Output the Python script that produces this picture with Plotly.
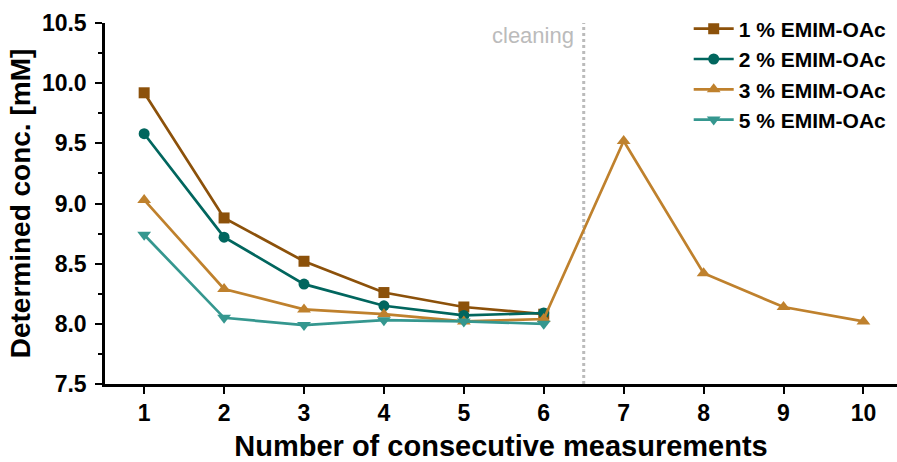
import plotly.graph_objects as go

x_all = [1, 2, 3, 4, 5, 6, 7, 8, 9, 10]
x_first = [1, 2, 3, 4, 5, 6]

names = ["1 % EMIM-OAc", "2 % EMIM-OAc", "3 % EMIM-OAc", "5 % EMIM-OAc"]
conc_1 = [9.92, 8.88, 8.52, 8.26, 8.14, 8.08]
conc_2 = [9.58, 8.72, 8.33, 8.15, 8.07, 8.09]
conc_3 = [9.03, 8.29, 8.12, 8.08, 8.02, 8.04, 9.52, 8.42, 8.14, 8.02]
conc_5 = [8.74, 8.05, 7.99, 8.03, 8.02, 8.00]

colors = ["#8c510a", "#01665e", "#bf812d", "#35978f"]
symbols = ["square", "circle", "triangle-up", "triangle-down"]
sizes = [11, 11, 12, 12]

cleaning_x = 6.5
cleaning_label = "cleaning"

x_ticks = x_all
y_ticks = [7.5, 8.0, 8.5, 9.0, 9.5, 10.0, 10.5]

FONT = "Arial, 'Liberation Sans', sans-serif"

fig = go.Figure()
series = [(x_first, conc_1), (x_first, conc_2), (x_all, conc_3), (x_first, conc_5)]
for i, (xs, ys) in enumerate(series):
    fig.add_trace(go.Scatter(
        x=xs, y=ys, mode="lines+markers", name=names[i],
        line=dict(color=colors[i], width=2.7),
        marker=dict(symbol=symbols[i], size=sizes[i], color=colors[i]),
    ))

fig.add_shape(type="line", xref="x", yref="paper", x0=cleaning_x, x1=cleaning_x,
              y0=0, y1=1, line=dict(color="#bbbbbb", width=3, dash="dot"), layer="below")
fig.add_annotation(xref="x", yref="paper", x=cleaning_x, y=1, xanchor="right", yanchor="top",
                   xshift=-8, yshift=2, text=cleaning_label, showarrow=False,
                   font=dict(family=FONT, size=22, color="#bbbbbb"))

fig.update_layout(
    width=897, height=462,
    margin=dict(l=105, r=0, t=23, b=78, autoexpand=False),
    plot_bgcolor="white", paper_bgcolor="white",
    font=dict(family=FONT, color="black"),
    showlegend=True,
    legend=dict(x=0.737, y=1.04, xanchor="left", yanchor="top",
                bgcolor="rgba(0,0,0,0)", font=dict(family=FONT, size=21, color="black", weight="bold"),
                tracegroupgap=0, itemwidth=40),
    xaxis=dict(
        range=[0.51, 10.42], tickmode="array", tickvals=x_ticks,
        automargin=False,
        showgrid=False, zeroline=False, showline=True, linecolor="black", linewidth=2.5,
        ticks="outside", ticklen=7, tickwidth=2, tickcolor="black",
        tickfont=dict(family=FONT, size=23, weight="bold"),
        title=dict(text="Number of consecutive measurements",
                   font=dict(family=FONT, size=29, weight="bold"), standoff=19),
    ),
    yaxis=dict(
        range=[7.5, 10.5], tickmode="array", tickvals=y_ticks,
        tickformat=".1f",
        automargin=False,
        showgrid=False, zeroline=False, showline=True, linecolor="black", linewidth=2.5,
        ticks="outside", ticklen=7, tickwidth=2, tickcolor="black",
        minor=dict(dtick=0.25, ticks="outside", ticklen=4, tickwidth=2, tickcolor="black"),
        tickfont=dict(family=FONT, size=23, weight="bold"),
        ticklabelstandoff=4,
        title=dict(text="Determined conc. [mM]",
                   font=dict(family=FONT, size=28, weight="bold"), standoff=4),
    ),
)

fig.write_html("out.html")
